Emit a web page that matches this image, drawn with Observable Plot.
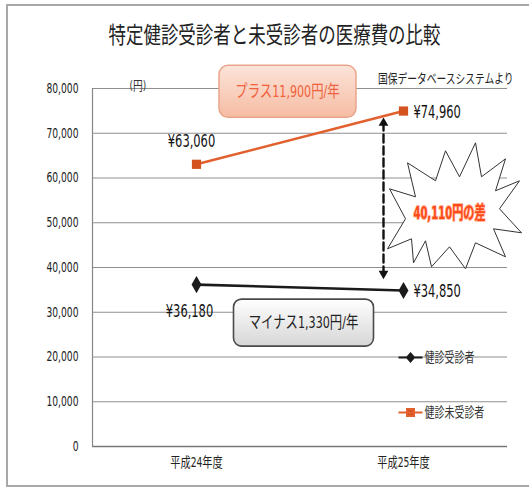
<!DOCTYPE html>
<html><head><meta charset="utf-8">
<script src="https://cdn.jsdelivr.net/npm/d3@7"></script>
<script src="https://cdn.jsdelivr.net/npm/@observablehq/plot@0.6"></script>
<style>
body{margin:0;background:#fff;}
#wrap{position:relative;width:529px;height:490px;overflow:hidden;background:#fff;}
#frame{position:absolute;left:6px;top:4px;width:540px;height:483px;border:2px solid #a8a8a8;box-sizing:border-box;}
#title{position:absolute;left:0;top:16px;width:548px;text-align:center;font-family:"Noto Sans CJK JP",sans-serif;font-size:23px;color:#222;line-height:34px;}
#title span{display:inline-block;transform:scaleX(0.76);}
#chart{position:absolute;left:0;top:55px;}
</style></head>
<body><div id="wrap"><div id="frame"></div><div id="title"><span>特定健診受診者と未受診者の医療費の比較</span></div><div id="chart"></div></div>
<script>
// ---- data ----
const years = ["平成24年度", "平成25年度"];
const seriesNames = ["健診受診者", "健診未受診者"];
const examined = [36180, 34850];     // 健診受診者
const unexamined = [63060, 74960];   // 健診未受診者
const yTicks = [0, 10000, 20000, 30000, 40000, 50000, 60000, 70000, 80000];
const unitLabel = "(円)";
const sourceNote = "国保データベースシステムより";

// ---- derived ----
const fmt = d3.format(",");
const rowsEx = years.map((y, i) => ({year: y, value: examined[i]}));
const rowsUn = years.map((y, i) => ({year: y, value: unexamined[i]}));
const plusLabel = "プラス" + fmt(unexamined[1] - unexamined[0]) + "円/年";
const minusLabel = "マイナス" + fmt(examined[0] - examined[1]) + "円/年";
const gapLabel = fmt(unexamined[1] - examined[1]) + "円の差";
const gapRow = {year: years[1], y1: examined[1], y2: unexamined[1], mid: (examined[1] + unexamined[1]) / 2};
const yen = d => "¥" + fmt(d.value);

const ORANGE = "#E2602E", ORANGE_D = "#D4521E", BLACK = "#1b1b1b";
const NUM = '"Liberation Sans Narrow","DejaVu Sans Condensed","Noto Sans CJK JP",sans-serif';

// ---- custom symbols ----
const roundRect = (w, h, r) => ({draw(ctx) {
  const x0 = -w/2, y0 = -h/2, x1 = w/2, y1 = h/2;
  ctx.moveTo(x0 + r, y0); ctx.lineTo(x1 - r, y0); ctx.arcTo(x1, y0, x1, y0 + r, r);
  ctx.lineTo(x1, y1 - r); ctx.arcTo(x1, y1, x1 - r, y1, r);
  ctx.lineTo(x0 + r, y1); ctx.arcTo(x0, y1, x0, y1 - r, r);
  ctx.lineTo(x0, y0 + r); ctx.arcTo(x0, y0, x0 + r, y0, r); ctx.closePath();
}});
const starPts = [[-62,-22],[-36,-14],[-44,-48],[-16,-30],[-6,-60],[8,-34],[24,-68],[30,-34],[54,-52],[44,-20],[68,-30],[48,-2],[70,22],[42,18],[54,46],[24,32],[14,58],[-2,36],[-20,56],[-26,30],[-38,52],[-40,28],[-64,38],[-46,8]];
const starburst = {draw(ctx) {
  ctx.moveTo(...starPts[0]); for (const p of starPts.slice(1)) ctx.lineTo(...p); ctx.closePath();
}};
const legendSym = (kind) => ({draw(ctx) {
  ctx.moveTo(-12, 0); ctx.lineTo(12, 0);
  if (kind === "diamond") { ctx.moveTo(0, -4); ctx.lineTo(3.5, 0); ctx.lineTo(0, 4); ctx.lineTo(-3.5, 0); ctx.closePath(); }
  else { ctx.moveTo(-3.5, -3.5); ctx.lineTo(3.5, -3.5); ctx.lineTo(3.5, 3.5); ctx.lineTo(-3.5, 3.5); ctx.closePath(); }
}});

const chart = Plot.plot({
  width: 529, height: 430,
  marginLeft: 92, marginRight: 22, marginTop: 33, marginBottom: 39,
  style: {fontFamily: NUM, fontSize: "13.6px", color: "#222", background: "transparent", overflow: "visible"},
  x: {type: "point", domain: years, padding: 0.5, label: null, tickSize: 0, tickPadding: 11, fontSize: 13.5},
  y: {domain: [0, 80000], ticks: yTicks, tickFormat: fmt, label: null, tickSize: 0, tickPadding: 14},
  marks: [
    Plot.ruleY(yTicks.slice(1), {stroke: "#8f8f8f", strokeWidth: 1.2}),
    Plot.ruleY([0], {stroke: "#777", strokeWidth: 1.5}),
    Plot.frame({anchor: "left", stroke: "#888", strokeWidth: 1.2}),
    // annotation boxes
    Plot.dot([rowsUn[0]], {x: "year", y: "value", symbol: roundRect(137, 52, 9), r: 5, fill: "url(#gOrange)", stroke: "#E9A58C", strokeWidth: 1.5, dx: 91, dy: -73}),
    Plot.text([rowsUn[0]], {x: "year", y: "value", text: () => plusLabel, dx: 91, dy: -73, fill: "#F0603A", fontSize: 16.5}),
    Plot.dot([rowsEx[0]], {x: "year", y: "value", symbol: roundRect(140, 47, 8), r: 5, fill: "url(#gGrey)", stroke: "#4a4a4a", strokeWidth: 1.6, dx: 107, dy: 38}),
    Plot.text([rowsEx[0]], {x: "year", y: "value", text: () => minusLabel, dx: 107, dy: 38, fill: "#222", fontSize: 16.5}),
    // series
    Plot.line(rowsUn, {x: "year", y: "value", stroke: ORANGE, strokeWidth: 2.6}),
    Plot.dot(rowsUn, {x: "year", y: "value", symbol: "square", r: 5.2, fill: ORANGE_D}),
    Plot.line(rowsEx, {x: "year", y: "value", stroke: BLACK, strokeWidth: 2.6}),
    Plot.dot(rowsEx, {x: "year", y: "value", symbol: "diamond", r: 5.2, fill: BLACK}),
    // value labels
    Plot.text([rowsUn[0]], {x: "year", y: "value", text: yen, dx: -5, dy: -23, fontSize: 17, fill: "#111"}),
    Plot.text([rowsEx[0]], {x: "year", y: "value", text: yen, dx: -7, dy: 27, fontSize: 17, fill: "#111"}),
    Plot.text([rowsUn[1]], {x: "year", y: "value", text: yen, dx: 10, dy: 2, textAnchor: "start", fontSize: 17, fill: "#111"}),
    Plot.text([rowsEx[1]], {x: "year", y: "value", text: yen, dx: 10, dy: 1, textAnchor: "start", fontSize: 17, fill: "#111"}),
    // dashed double arrow
    Plot.arrow([gapRow], {x1: "year", x2: "year", y1: "y1", y2: "y2", dx: -20, insetStart: 16, insetEnd: 11, headLength: 0, stroke: "#111", strokeWidth: 2.4, strokeDasharray: "8,4"}),
    Plot.dot([gapRow], {x: "year", y: "y2", dx: -20, dy: 12, symbol: "triangle", r: 3.6, fill: "#111"}),
    Plot.dot([gapRow], {x: "year", y: "y1", dx: -20, dy: -17, symbol: "triangle", rotate: 180, r: 3.6, fill: "#111"}),
    // starburst
    Plot.dot([gapRow], {x: "year", y: "mid", symbol: starburst, r: 5, fill: "white", stroke: "#333", strokeWidth: 1, dx: 48, dy: 10}),
    Plot.text([gapRow], {x: "year", y: "mid", text: () => gapLabel, dx: 46, dy: 12, fill: "#FF4A18", fontSize: 18, fontWeight: "bold", stroke: "#FFB89A", strokeWidth: 2, paintOrder: "stroke"}),
    // unit + source
    Plot.text([unitLabel], {text: d => d, frameAnchor: "top-left", dx: 37, dy: -8, fontSize: 13, fill: "#333"}),
    Plot.text([sourceNote], {text: d => d, frameAnchor: "top-right", dx: 6, dy: -15, textAnchor: "end", fontSize: 13, fill: "#222", fontFamily: "Noto Sans CJK JP"}),
    // legend
    Plot.dot([0], {frameAnchor: "right", dx: -97, dy: 90, symbol: legendSym("diamond"), r: 5, fill: BLACK, stroke: BLACK, strokeWidth: 2}),
    Plot.text([seriesNames[0]], {text: d => d, frameAnchor: "right", dx: -83, dy: 90, textAnchor: "start", fontSize: 13.3, fill: "#333", fontFamily: "Noto Sans CJK JP"}),
    Plot.dot([0], {frameAnchor: "right", dx: -97, dy: 145, symbol: legendSym("square"), r: 5, fill: ORANGE_D, stroke: ORANGE, strokeWidth: 2}),
    Plot.text([seriesNames[1]], {text: d => d, frameAnchor: "right", dx: -83, dy: 145, textAnchor: "start", fontSize: 13.3, fill: "#333", fontFamily: "Noto Sans CJK JP"})
  ]
});
d3.select(chart).insert("defs", ":first-child").html(
  '<linearGradient id="gOrange" x1="0" y1="0" x2="0" y2="1"><stop offset="0" stop-color="#FCE4D9"/><stop offset="1" stop-color="#F6BCA3"/></linearGradient>' +
  '<linearGradient id="gGrey" x1="0" y1="0" x2="0" y2="1"><stop offset="0" stop-color="#ffffff"/><stop offset="1" stop-color="#d6d6d6"/></linearGradient>'
);
// the reference scan is horizontally condensed: squeeze every label about its anchor
d3.select(chart).selectAll("text").each(function() {
  const s = this.textContent === gapLabel ? 0.62 : 0.75;
  const x = +this.getAttribute("x") || 0;
  const t = this.getAttribute("transform") || "";
  this.setAttribute("transform", `${t} translate(${x},0) scale(${s},1) translate(${-x},0)`);
});
document.getElementById("chart").appendChild(chart);
</script>
</body></html>
